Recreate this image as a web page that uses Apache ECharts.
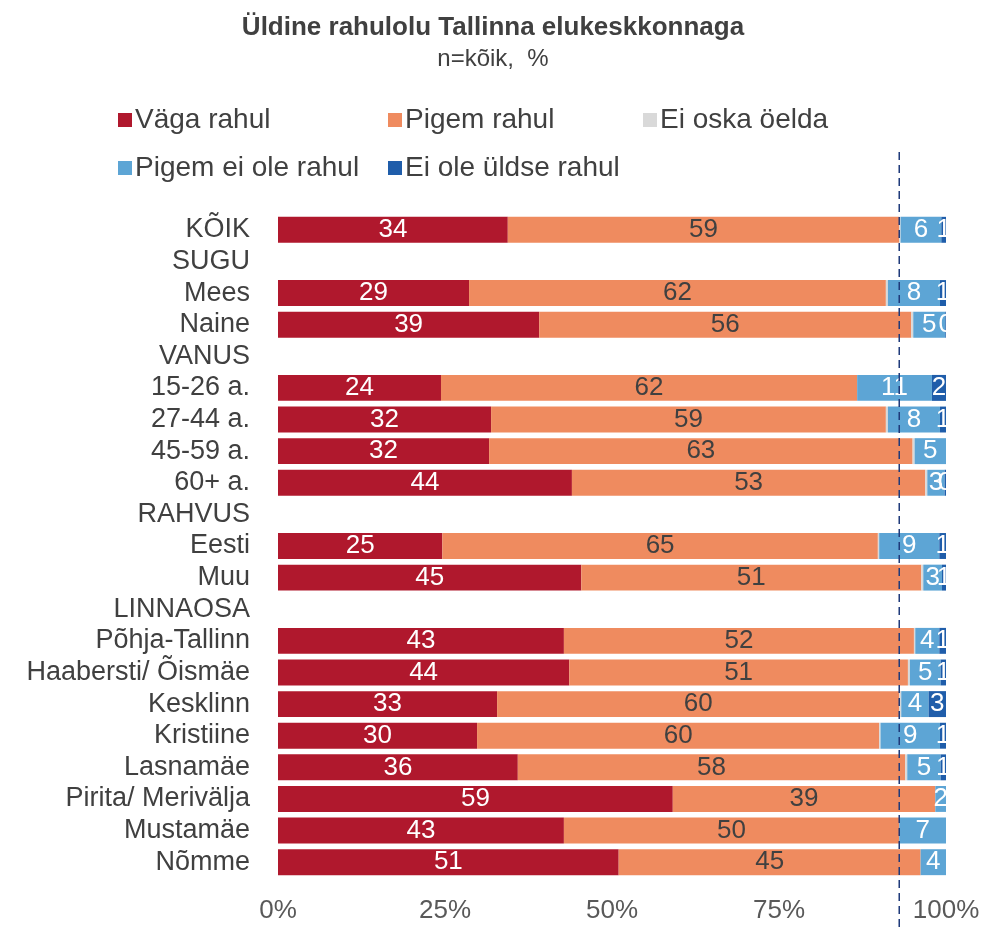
<!DOCTYPE html>
<html style="height: 100%">
<head>
    <meta charset="utf-8">
    <script src="https://cdn.jsdelivr.net/npm/echarts@6/dist/echarts.min.js"></script>
</head>
<body style="height: 100%; margin: 0; background: #fff">
    <div id="chart" style="width: 986px; height: 929px"></div>
    <script type="text/javascript">
        // rows, top to bottom (empty values = group header rows)
        var categories = ['KÕIK', 'SUGU', 'Mees', 'Naine', 'VANUS', '15-26 a.', '27-44 a.', '45-59 a.', '60+ a.',
            'RAHVUS', 'Eesti', 'Muu', 'LINNAOSA', 'Põhja-Tallinn', 'Haabersti/ Õismäe', 'Kesklinn', 'Kristiine',
            'Lasnamäe', 'Pirita/ Merivälja', 'Mustamäe', 'Nõmme'];
        var vagaRahul   = [34.4, null, 28.6, 39.1, null, 24.4, 31.9, 31.6, 44.0, null, 24.6, 45.4, null, 42.8, 43.6, 32.8, 29.8, 35.9, 59.1, 42.8, 51.0];
        var pigemRahul  = [58.6, null, 62.4, 55.7, null, 62.3, 59.1, 63.4, 52.9, null, 65.2, 50.9, null, 52.4, 50.7, 60.2, 60.2, 58.0, 39.3, 50.2, 45.2];
        var eiOska      = [0.2, null, 0.3, 0.3, null, 0, 0.3, 0.3, 0.3, null, 0.2, 0.3, null, 0.2, 0.3, 0.3, 0.2, 0.3, 0, 0, 0];
        var pigemEiOle  = [6.1, null, 7.8, 4.8, null, 11.2, 7.8, 4.7, 2.6, null, 9.0, 2.8, null, 3.6, 4.6, 4.1, 8.9, 5.0, 1.6, 7.0, 3.8];
        var eiOleYldse  = [0.7, null, 0.9, 0.1, null, 2.1, 0.9, 0, 0.2, null, 1.0, 0.6, null, 1.0, 0.8, 2.6, 0.9, 0.8, 0, 0, 0];
        var seriesNames = ['Väga rahul', 'Pigem rahul', 'Ei oska öelda', 'Pigem ei ole rahul', 'Ei ole üldse rahul'];
        var xTicks = [0, 25, 50, 75, 100];
        var refLine = 93;

        var myChart = echarts.init(document.getElementById('chart'));
        var font = 'Liberation Sans, Arial, sans-serif';

        function bar(name, data, color, labelColor) {
            return {
                name: name,
                type: 'bar',
                stack: 'total',
                barWidth: '82%',
                itemStyle: { color: color },
                label: {
                    show: labelColor != null,
                    position: 'inside',
                    color: labelColor,
                    fontFamily: font,
                    fontSize: 26,
                    formatter: function (p) {
                        if (p.value == null || p.value <= 0) return '';
                        return Math.round(p.value);
                    }
                },
                data: data
            };
        }

        // one legend per item so the entries line up in columns
        var legendSpots = [[113, 101], [383, 101], [638, 101], [113, 149], [383, 149]];
        var legends = seriesNames.map(function (n, i) {
            return {
                data: [n],
                left: legendSpots[i][0], top: legendSpots[i][1],
                itemWidth: 14, itemHeight: 14, itemGap: 0,
                icon: 'rect',
                textStyle: { fontFamily: font, fontSize: 28, color: '#404040', padding: [0, 0, 0, -2] }
            };
        });

        myChart.setOption({
            animation: false,
            title: [{
                text: 'Üldine rahulolu Tallinna elukeskkonnaga',
                subtext: 'n=kõik,  %',
                left: 'center',
                top: 10,
                itemGap: 6,
                textStyle: { fontFamily: font, fontSize: 26, fontWeight: 'bold', color: '#404040' },
                subtextStyle: { fontFamily: font, fontSize: 24, color: '#404040' }
            }],
            legend: legends,
            grid: { left: 278, right: 40, top: 214, bottom: 51, containLabel: false },
            xAxis: {
                type: 'value',
                min: xTicks[0],
                max: xTicks[xTicks.length - 1],
                interval: 25,
                splitLine: { show: false },
                axisLine: { show: false },
                axisTick: { show: false },
                axisLabel: {
                    formatter: '{value}%', fontFamily: font, fontSize: 26, color: '#595959', margin: 20
                }
            },
            yAxis: {
                type: 'category',
                inverse: true,
                data: categories,
                axisLine: { show: false },
                axisTick: { show: false },
                axisLabel: { interval: 0, fontFamily: font, fontSize: 27, color: '#404040', margin: 28 }
            },
            series: [
                bar(seriesNames[0], vagaRahul, '#B0182D', '#ffffff'),
                bar(seriesNames[1], pigemRahul, '#EF8B5F', '#404040'),
                bar(seriesNames[2], eiOska, '#D9D9D9', null),
                bar(seriesNames[3], pigemEiOle, '#5DA5D5', '#ffffff'),
                bar(seriesNames[4], eiOleYldse, '#1F5DAA', '#ffffff')
            ]
        });

        // dashed reference line across the whole height
        var lx = myChart.convertToPixel({ xAxisIndex: 0 }, refLine);
        myChart.setOption({
            graphic: [{
                type: 'line',
                shape: { x1: lx, y1: 152, x2: lx, y2: 929 },
                style: { stroke: '#1F3A7A', lineWidth: 1.5, lineDash: [8, 5] },
                z: 100
            }]
        });
    </script>
</body>
</html>
